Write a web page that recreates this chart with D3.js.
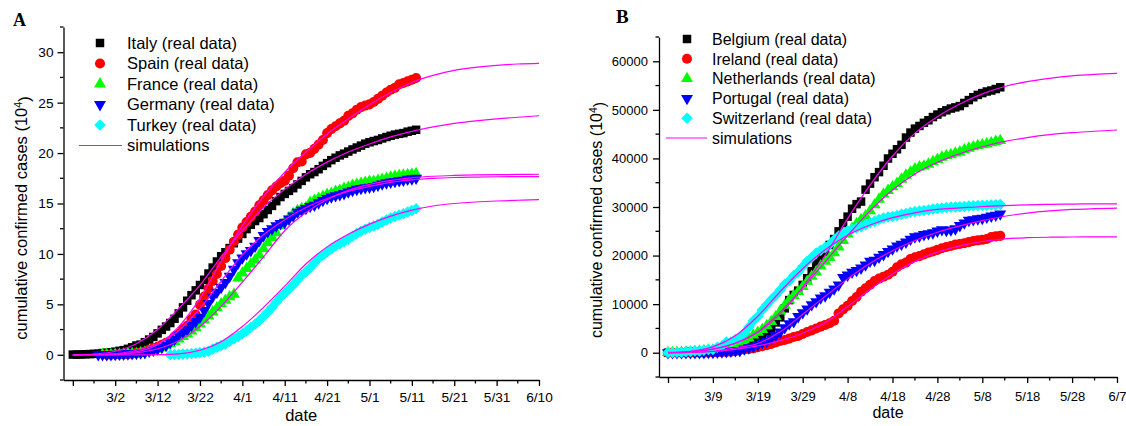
<!DOCTYPE html>
<html><head><meta charset="utf-8">
<script src="https://cdn.jsdelivr.net/npm/d3@7"></script>
<style>
body{margin:0;background:#fff}
svg{display:block}
text{font-family:"Liberation Sans",Arial,sans-serif;fill:#000}
</style>
</head><body>
<svg id="chart" width="1126" height="426"></svg>
<script>
// ---------------- Panel A data (units of 10^4 cases), day 0 = 2/21 ----------------
const aTickDays = [0,10,20,30,40,50,60,70,80,90,100,110];
const aTickLabels = ["", "3/2", "3/12", "3/22", "4/1", "4/11", "4/21", "5/1", "5/11", "5/21", "5/31", "6/10"];
const aYTicks = [0,5,10,15,20,25,30];
const aNames = ["Italy (real data)", "Spain (real data)", "France (real data)", "Germany (real data)", "Turkey (real data)"];
const aStart = [0, 8, 7, 6, 23];
const italy = [0.02,0.02,0.03,0.05,0.07,0.09,0.11,0.17,0.20,0.25,
  0.31,0.39,0.46,0.59,0.74,0.92,1.01,1.25,1.51,1.77,
  2.12,2.47,2.80,3.15,3.57,4.10,4.70,5.36,5.91,6.39,
  6.92,7.44,8.06,8.65,9.25,9.77,10.17,10.58,11.06,11.52,
  11.98,12.46,12.89,13.26,13.56,13.94,14.36,14.76,15.23,15.64,
  15.95,16.25,16.52,16.89,17.24,17.59,17.90,18.12,18.40,18.73,
  19.00,19.30,19.54,19.77,19.94,20.15,20.36,20.55,20.74,20.93,
  21.07,21.19,21.30,21.45,21.59,21.72,21.83,21.91,21.98,22.12,
  22.21,22.31];
const spain = [0.02,0.02,0.03,0.04,0.05,0.07,0.11,0.17,0.23,0.31,
  0.52,0.64,0.78,0.99,1.18,1.39,1.80,2.04,2.54,2.88,
  3.51,3.99,4.95,5.78,6.57,7.32,8.01,8.80,9.59,10.41,
  11.21,11.92,12.62,13.17,13.67,14.19,14.82,15.32,15.83,16.30,
  16.68,17.01,17.25,17.76,18.49,19.08,19.17,19.87,20.02,20.42,
  20.84,21.30,21.98,22.38,22.66,22.94,23.21,23.69,23.94,24.30,
  24.56,24.71,24.83,25.06,25.37,25.69,26.01,26.28,26.47,26.81,
  26.95,27.11,27.27,27.44];
const france = [0.01,0.02,0.02,0.03,0.04,0.07,0.10,0.11,0.12,0.18,
  0.23,0.30,0.40,0.55,0.70,0.90,1.10,1.30,1.55,1.80,
  2.05,2.35,2.70,3.05,3.45,3.85,4.25,4.65,5.05,5.40,
  5.75,6.00,7.60,8.10,8.55,9.00,9.40,9.90,10.50,11.10,
  11.60,12.10,12.80,13.20,13.60,14.00,14.30,14.50,14.60,15.10,
  15.30,15.50,15.70,15.90,16.00,16.20,16.30,16.50,16.60,16.80,
  16.90,17.00,17.10,17.20,17.20,17.30,17.40,17.50,17.60,17.70,
  17.75,17.80,17.85,17.90,17.95];
const germany = [0.01,0.02,0.02,0.03,0.05,0.07,0.08,0.10,0.12,0.15,
  0.19,0.21,0.37,0.46,0.58,0.73,0.93,1.23,1.53,1.98,
  2.22,2.49,2.91,3.30,3.73,4.39,5.09,5.77,6.21,6.69,
  7.18,7.79,8.48,9.12,9.61,10.01,10.34,10.77,11.33,11.82,
  12.22,12.49,12.79,13.01,13.14,13.48,13.77,14.14,14.33,14.52,
  14.71,14.83,15.07,15.31,15.50,15.65,15.78,15.88,15.99,16.15,
  16.30,16.41,16.50,16.57,16.62,16.70,16.82,16.94,17.06,17.13,
  17.19,17.26,17.32,17.41,17.45,17.52];
const turkey = [0.01,0.02,0.04,0.07,0.09,0.12,0.15,0.19,0.24,0.36,
  0.57,0.74,0.92,1.08,1.35,1.57,1.81,2.09,2.39,2.71,
  3.02,3.41,3.82,4.23,4.70,5.22,5.70,6.11,6.51,6.94,
  7.42,7.86,8.23,8.63,9.10,9.56,9.87,10.18,10.49,10.78,
  11.01,11.23,11.47,11.76,12.02,12.24,12.44,12.61,12.77,12.95,
  13.17,13.37,13.56,13.71,13.87,13.98,14.15,14.31,14.48];
// simulations, days 0..110 step 5
const aSimDays = [0,5,10,15,20,25,30,35,40,45,50,55,60,65,70,75,80,85,90,95,100,105,110];
const italySim   = [0.02,0.08,0.35,1.1,2.5,4.6,6.9,9.7,12.3,14.6,16.4,17.9,19.1,20.1,20.9,21.6,22.15,22.6,22.95,23.2,23.4,23.55,23.7];
const spainSim   = [0,0.01,0.06,0.3,1.0,2.8,5.6,9.3,12.8,15.7,18.1,20.1,21.9,23.4,24.8,26.0,27.0,27.7,28.2,28.5,28.7,28.83,28.9];
const franceSim  = [0,0.01,0.05,0.2,0.6,1.4,2.8,4.8,7.2,9.7,12.3,14.1,15.4,16.3,16.9,17.3,17.55,17.7,17.78,17.83,17.86,17.88,17.9];
const germanySim = [0,0.02,0.1,0.45,1.1,2.4,4.6,7.3,9.9,11.9,13.4,14.6,15.5,16.2,16.7,17.1,17.35,17.5,17.58,17.62,17.65,17.66,17.67];
const turkeySim  = [0,0,0,0,0.02,0.1,0.45,1.3,2.8,4.7,6.8,9.0,10.7,11.95,12.95,13.75,14.35,14.75,15.0,15.15,15.25,15.32,15.38];

// ---------------- Panel B data (cases), day 0 = 2/28 ----------------
const bTickDays = [0,10,20,30,40,50,60,70,80,90,100];
const bTickLabels = ["", "3/9", "3/19", "3/29", "4/8", "4/18", "4/28", "5/8", "5/18", "5/28", "6/7"];
const bYTicks = [0,10000,20000,30000,40000,50000,60000];
const bNames = ["Belgium (real data)", "Ireland (real data)", "Netherlands (real data)", "Portugal (real data)", "Switzerland (real data)"];
const bStart = [0, 0, 0, 0, 0];
const belgium = [8,13,23,50,109,169,200,239,267,314,
  314,559,689,886,1058,1243,1486,1795,2257,2815,
  3401,3743,4269,4937,6235,7284,9134,10836,11899,12775,
  13964,15348,16770,18431,19691,20814,22194,23403,24983,26667,
  28018,29647,30589,31119,33573,34809,36138,37183,38496,39983,
  40956,41889,42797,44293,45325,46134,46687,47334,47859,48519,
  49032,49517,49906,50267,50509,50781,51420,52011,52596,53081,
  53449,53779,53981,54288,54644];
const ireland = [1,2,6,6,18,19,21,21,24,34,
  43,90,129,169,223,292,557,683,785,906,
  1125,1329,1564,1819,2121,2415,2615,2910,3235,3447,
  3849,4273,4604,4994,5364,5709,6074,6574,8089,8928,
  9655,10647,11479,12547,13271,13980,14758,15251,15652,16040,
  16671,17607,18184,18561,19262,19648,19877,20253,20612,20833,
  21176,21506,21772,21983,22248,22385,22541,22760,22996,23135,
  23242,23401,23827,23956,24048];
const netherlands = [18,24,38,82,128,188,265,321,382,503,
  503,804,959,1135,1413,1705,2051,2460,2994,3631,
  4204,4749,5560,6412,7431,8603,9762,10866,11750,12595,
  13614,14697,15723,16627,17851,18803,19580,20549,21762,23097,
  24413,25587,26551,27419,28153,29214,30449,31589,32655,33405,
  34134,34842,35729,36535,37190,37845,38245,38416,38802,39316,
  39791,40236,40571,40770,41087,41319,41774,42093,42382,42627,
  42788,42984,43211,43481,43681];
const portugal = [2,2,5,8,13,20,30,30,41,59,
  59,112,169,245,331,448,448,785,1020,1280,
  1600,2060,2362,2995,3544,4268,5170,5962,6408,7443,
  8251,9034,9886,10524,11278,11730,12442,13141,13956,15472,
  15987,16585,16934,17448,18091,18841,19022,19685,20206,20863,
  21379,21982,22353,22797,23392,23864,24027,24322,24505,24692,
  25045,25351,25190,25282,25524,26182,26715,27268,27406,27581,
  27679,27913,28132,28319,28583];
const switzerland = [42,56,90,114,214,268,337,374,491,652,
  652,1139,1359,2200,2200,2700,3028,4075,5294,6575,
  7474,8795,9877,10897,11811,12928,14076,14829,15922,16605,
  17768,18827,19606,20505,21100,21657,22253,23280,24051,24551,
  25107,25415,25688,25936,26336,26732,27078,27404,27740,27944,
  28063,28268,28496,28677,28894,29061,29164,29264,29407,29586,
  29705,29817,29905,29981,30009,30060,30126,30207,30251,30305,
  30344,30380,30413,30463,30514];
const bSimDays = [0,5,10,15,20,25,30,35,40,45,50,55,60,65,70,75,80,85,90,95,100];
const belgiumSim     = [0,200,700,1900,4200,8000,13500,20000,27600,34500,40500,45200,48600,51200,53300,54800,55800,56500,57000,57300,57500];
const irelandSim     = [0,50,250,700,1400,2500,4000,6200,9500,13000,16200,18800,20700,22000,22900,23450,23680,23780,23820,23840,23850];
const netherlandsSim = [0,250,800,2000,4300,8400,13300,18700,24100,29200,33500,36800,39200,41000,42400,43500,44300,44900,45300,45600,45850];
const portugalSim    = [0,50,300,1000,1900,4300,7900,11600,15200,18400,21000,23100,24800,26100,27200,28100,28750,29200,29500,29650,29750];
const switzerlandSim = [50,300,1200,3500,7500,12600,17300,21200,24200,26300,27800,28800,29500,29800,30100,30300,30450,30550,30600,30640,30660];

// ---------------- drawing ----------------
const colors = ["#000000", "#ff0000", "#00ff00", "#0000ff", "#00ffff"];
const simColor = "#ff00ff";
const svg = d3.select("#chart");

function symbolPath(kind) {
  if (kind === 0) return { d: d3.symbol(d3.symbolSquare, 72)(), rot: 0 };
  if (kind === 1) return { d: d3.symbol(d3.symbolCircle, 80)(), rot: 0 };
  if (kind === 2) return { d: d3.symbol(d3.symbolTriangle, 62)(), rot: 0 };
  if (kind === 3) return { d: d3.symbol(d3.symbolTriangle, 62)(), rot: 180 };
  return { d: d3.symbol(d3.symbolSquare, 66)(), rot: 45 };
}

function drawPanel(p) {
  const x = d3.scaleLinear().domain(p.xDomain).range(p.xRange);
  const y = d3.scaleLinear().domain(p.yDomain).range(p.yRange);
  const g = svg.append("g");

  // axes
  const xAxis = d3.axisBottom(x).tickValues(p.xTicks)
    .tickFormat((d, i) => p.xLabels[i]).tickSize(6).tickSizeOuter(0).tickPadding(p.xPad);
  const gx = g.append("g").attr("transform", `translate(0,${p.yRange[0]})`).call(xAxis);
  const yAxis = d3.axisLeft(y).tickValues(p.yTicks).tickSize(6).tickSizeOuter(0).tickPadding(p.yPad)
    .tickFormat(d3.format("d"));
  const gy = g.append("g").attr("transform", `translate(${p.xRange[0]},0)`).call(yAxis);
  [gx, gy].forEach(a => {
    a.attr("font-family", null).attr("font-size", null);
    a.selectAll("path.domain").attr("stroke", "#000").attr("stroke-width", 1.3);
    a.selectAll(".tick line").attr("stroke", "#000").attr("stroke-width", 1.3);
    a.selectAll(".tick text").style("font-size", p.tickFont + "px").attr("fill", "#000");
  });
  // minor ticks
  g.append("g").selectAll("line").data(p.xMinor).join("line")
    .attr("x1", d => x(d)).attr("x2", d => x(d))
    .attr("y1", p.yRange[0]).attr("y2", p.yRange[0] + 3.5)
    .attr("stroke", "#000").attr("stroke-width", 1.3);
  g.append("g").selectAll("line").data(p.yMinor).join("line")
    .attr("y1", d => y(d)).attr("y2", d => y(d))
    .attr("x1", p.xRange[0]).attr("x2", p.xRange[0] - 3.5)
    .attr("stroke", "#000").attr("stroke-width", 1.3);

  // axis titles
  g.append("text").attr("x", (p.xRange[0] + p.xRange[1]) / 2).attr("y", p.dateY)
    .attr("text-anchor", "middle").style("font-size", p.titleFont + "px").text("date");
  const yl = g.append("text")
    .attr("transform", `translate(${p.yLabelX},${p.yLabelY}) rotate(-90)`)
    .attr("text-anchor", "middle").style("font-size", p.titleFont + "px");
  yl.append("tspan").text("cumulative confirmed cases (10");
  yl.append("tspan").attr("dy", "-0.45em").style("font-size", (p.titleFont * 0.65) + "px").text("4");
  yl.append("tspan").attr("dy", "0.45em").text(")");

  // panel letter
  g.append("text").attr("x", p.letterX).attr("y", p.letterY)
    .style("font-family", "'Liberation Serif','Times New Roman',serif")
    .style("font-weight", "bold").style("font-size", p.letterFont + "px").text(p.letter);

  // real data markers
  p.series.forEach((vals, i) => {
    const sp = symbolPath(i);
    const pts = vals.map((v, k) => ({ d: p.starts[i] + k, v }));
    g.append("g").selectAll("path").data(pts).join("path")
      .attr("d", sp.d)
      .attr("transform", d => `translate(${x(d.d)},${y(d.v)}) rotate(${sp.rot})`)
      .attr("fill", colors[i]);
  });

  // simulation lines
  const line = d3.line().x(d => x(d.d)).y(d => y(d.v)).curve(d3.curveMonotoneX);
  p.sims.forEach(vals => {
    const pts = vals.map((v, k) => ({ d: p.simDays[k], v }));
    g.append("path").attr("d", line(pts)).attr("fill", "none")
      .attr("stroke", simColor).attr("stroke-width", 1.2);
  });

  // legend
  const lg = g.append("g");
  p.names.forEach((name, i) => {
    const ry = p.legY + i * p.legStep;
    const sp = symbolPath(i);
    lg.append("path").attr("d", sp.d)
      .attr("transform", `translate(${p.legMarkX},${ry}) rotate(${sp.rot})`)
      .attr("fill", colors[i]);
    lg.append("text").attr("x", p.legTextX).attr("y", ry).attr("dy", "0.36em")
      .style("font-size", p.legFont + "px").text(name);
  });
  const sy = p.legY + 5 * p.legStep;
  lg.append("line").attr("x1", p.legLine[0]).attr("x2", p.legLine[1]).attr("y1", sy).attr("y2", sy)
    .attr("stroke", simColor).attr("stroke-width", 1.2);
  lg.append("text").attr("x", p.legTextX).attr("y", sy).attr("dy", "0.36em")
    .style("font-size", p.legFont + "px").text("simulations");
}

drawPanel({
  xDomain: [-2.2, 110], xRange: [63.5, 539],
  yDomain: [-2.5, 32.5], yRange: [380, 27],
  xTicks: aTickDays, xLabels: aTickLabels, xMinor: d3.range(5, 110, 10),
  yTicks: aYTicks, yMinor: [-2.5, 2.5, 7.5, 12.5, 17.5, 22.5, 27.5, 32.5],
  xPad: 6, yPad: 4, tickFont: 13.7, titleFont: 16.5,
  dateY: 421, yLabelX: 27, yLabelY: 218,
  letter: "A", letterX: 13, letterY: 25.5, letterFont: 18,
  series: [italy, spain, france, germany, turkey], starts: aStart,
  sims: [italySim, spainSim, franceSim, germanySim, turkeySim], simDays: aSimDays,
  names: aNames, legY: 43, legStep: 20.5, legMarkX: 100, legTextX: 127, legFont: 16.5,
  legLine: [79, 122]
});

drawPanel({
  xDomain: [-2, 100], xRange: [659, 1117],
  yDomain: [-5000, 65000], yRange: [377, 37],
  xTicks: bTickDays, xLabels: bTickLabels, xMinor: d3.range(5, 100, 10),
  yTicks: bYTicks, yMinor: d3.range(-5000, 70000, 10000),
  xPad: 9, yPad: 5, tickFont: 13, titleFont: 16,
  dateY: 418, yLabelX: 602, yLabelY: 220,
  letter: "B", letterX: 616, letterY: 22.5, letterFont: 19,
  series: [belgium, ireland, netherlands, portugal, switzerland], starts: bStart,
  sims: [belgiumSim, irelandSim, netherlandsSim, portugalSim, switzerlandSim], simDays: bSimDays,
  names: bNames, legY: 39, legStep: 19.8, legMarkX: 687, legTextX: 712, legFont: 16,
  legLine: [666, 707]
});
</script>
</body></html>
